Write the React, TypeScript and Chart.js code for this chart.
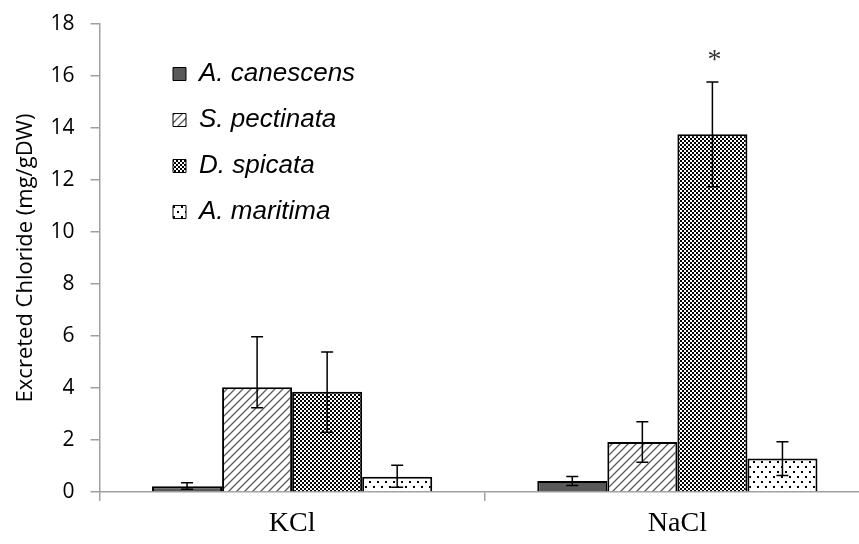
import React, { useEffect, useRef } from 'react';
import { Chart, registerables } from 'chart.js';

Chart.register(...registerables);

const categories = ['KCl', 'NaCl'];
const seriesNames = ['A. canescens', 'S. pectinata', 'D. spicata', 'A. maritima'];

const canescensValues = [0.22, 0.42];
const canescensHigh = [0.36, 0.6];
const canescensLow = [0.11, 0.25];

const pectinataValues = [4.03, 1.92];
const pectinataHigh = [5.97, 2.7];
const pectinataLow = [3.24, 1.14];

const spicataValues = [3.86, 13.76];
const spicataHigh = [5.38, 15.77];
const spicataLow = [2.3, 11.74];

const maritimaValues = [0.59, 1.29];
const maritimaHigh = [1.03, 1.93];
const maritimaLow = [0.18, 0.63];

const significanceLabels = [
  ['', ''],
  ['', ''],
  ['', '*'],
  ['', ''],
];

const yMin = 0;
const yMax = 18;
const yStep = 2;
const yTitle = 'Excreted Chloride (mg/gDW)';

function makeFill(kind: string): CanvasPattern | string {
  if (kind === 'solid') return '#595959';
  const c = document.createElement('canvas');
  const ctx = c.getContext('2d') as CanvasRenderingContext2D;
  if (kind === 'diag') {
    c.width = 8;
    c.height = 8;
    ctx.fillStyle = '#ffffff';
    ctx.fillRect(0, 0, 8, 8);
    ctx.strokeStyle = '#5a5a5a';
    ctx.lineWidth = 1.3;
    ctx.beginPath();
    ctx.moveTo(-2, 10);
    ctx.lineTo(10, -2);
    ctx.moveTo(-2, 2);
    ctx.lineTo(2, -2);
    ctx.moveTo(6, 10);
    ctx.lineTo(10, 6);
    ctx.stroke();
  } else if (kind === 'check') {
    c.width = 4;
    c.height = 4;
    ctx.fillStyle = '#ffffff';
    ctx.fillRect(0, 0, 4, 4);
    ctx.fillStyle = '#000000';
    ctx.fillRect(0, 0, 2, 2);
    ctx.fillRect(2, 2, 2, 2);
  } else {
    c.width = 8;
    c.height = 10;
    ctx.fillStyle = '#ffffff';
    ctx.fillRect(0, 0, 8, 10);
    ctx.fillStyle = '#000000';
    ctx.fillRect(1, 1, 2, 2);
    ctx.fillRect(5, 6, 2, 2);
  }
  return ctx.createPattern(c, 'repeat') as CanvasPattern;
}

const errorBarPlugin = {
  id: 'errorBars',
  afterDatasetsDraw(chart: any) {
    const ctx = chart.ctx as CanvasRenderingContext2D;
    const y = chart.scales.y;
    chart.data.datasets.forEach((ds: any, di: number) => {
      const meta = chart.getDatasetMeta(di);
      meta.data.forEach((bar: any, i: number) => {
        const x = bar.x;
        const top = y.getPixelForValue(ds.errHigh[i]);
        const bot = y.getPixelForValue(ds.errLow[i]);
        ctx.save();
        ctx.strokeStyle = '#000000';
        ctx.lineWidth = 1.5;
        ctx.beginPath();
        ctx.moveTo(x, top);
        ctx.lineTo(x, bot);
        ctx.moveTo(x - 6, top);
        ctx.lineTo(x + 6, top);
        ctx.moveTo(x - 6, bot);
        ctx.lineTo(x + 6, bot);
        ctx.stroke();
        const lbl = ds.sig[i];
        if (lbl) {
          ctx.font = '28px "Liberation Serif"';
          ctx.textAlign = 'center';
          ctx.textBaseline = 'alphabetic';
          ctx.fillStyle = '#333333';
          ctx.fillText(lbl, x + 2, top - 14);
        }
        ctx.restore();
      });
    });
  },
};

const legendPlacement = {
  id: 'legendPlacement',
  afterLayout(chart: any) {
    const lg = chart.legend;
    if (!lg) return;
    lg.left = 153;
    lg.top = 41;
  },
};

export default function App() {
  const canvasRef = useRef<HTMLCanvasElement | null>(null);

  useEffect(() => {
    if (!canvasRef.current) return;
    const fills = ['solid', 'diag', 'check', 'dots'].map(makeFill);
    const values = [canescensValues, pectinataValues, spicataValues, maritimaValues];
    const highs = [canescensHigh, pectinataHigh, spicataHigh, maritimaHigh];
    const lows = [canescensLow, pectinataLow, spicataLow, maritimaLow];

    const datasets = seriesNames.map((name, i) => ({
      label: name,
      data: values[i],
      errHigh: highs[i],
      errLow: lows[i],
      sig: significanceLabels[i],
      backgroundColor: fills[i],
      borderColor: '#000000',
      borderWidth: 2,
      categoryPercentage: 0.7273,
      barPercentage: 1,
    }));

    const chart = new Chart(canvasRef.current, {
      type: 'bar',
      data: { labels: categories, datasets: datasets as any },
      options: {
        animation: false,
        responsive: true,
        maintainAspectRatio: false,
        layout: { padding: { top: 24, left: 0, right: 0, bottom: 0 } },
        plugins: {
          tooltip: { enabled: false },
          legend: {
            position: 'chartArea' as any,
            align: 'start',
            labels: {
              boxWidth: 13,
              boxHeight: 13,
              padding: 20,
              color: '#000000',
              font: { family: '"Liberation Sans"', size: 26, style: 'italic' },
              generateLabels(ch: any) {
                const base = Chart.defaults.plugins.legend.labels.generateLabels(ch);
                return base.map((it: any) => ({ ...it, lineWidth: 1, strokeStyle: '#000000' }));
              },
            },
          },
        },
        scales: {
          x: {
            offset: true,
            grid: {
              offset: true,
              drawOnChartArea: false,
              tickLength: 9,
              color: '#a0a0a0',
              lineWidth: 1.5,
            },
            border: { color: '#a0a0a0', width: 1.5 },
            ticks: {
              font: { family: '"Liberation Serif"', size: 28 },
              color: '#000000',
              padding: 6,
            },
            afterFit(s: any) {
              s.height = 52;
              s.paddingLeft = 0;
              s.paddingRight = 0;
            },
          },
          y: {
            min: yMin,
            max: yMax,
            ticks: {
              stepSize: yStep,
              font: { family: '"Open Sans"', size: 21 },
              color: '#000000',
              padding: 16,
            },
            grid: {
              drawOnChartArea: false,
              tickLength: 9,
              color: '#a0a0a0',
              lineWidth: 1.5,
            },
            border: { color: '#a0a0a0', width: 1.5 },
            title: {
              display: true,
              text: yTitle,
              font: { family: '"Open Sans"', size: 22 },
              color: '#000000',
              padding: { top: 13, bottom: 0 },
            },
            afterFit(s: any) {
              s.width = 99.5;
              s.paddingTop = 0;
              s.paddingBottom = 0;
            },
          },
        },
      },
      plugins: [errorBarPlugin, legendPlacement],
    });
    return () => chart.destroy();
  }, []);

  return (
    <div
      style={{
        position: 'fixed',
        left: 0,
        top: 0,
        width: 859,
        height: 544,
        overflow: 'hidden',
        background: '#ffffff',
      }}
    >
      <div style={{ position: 'relative', width: 870, height: 544 }}>
        <canvas ref={canvasRef} />
      </div>
    </div>
  );
}
